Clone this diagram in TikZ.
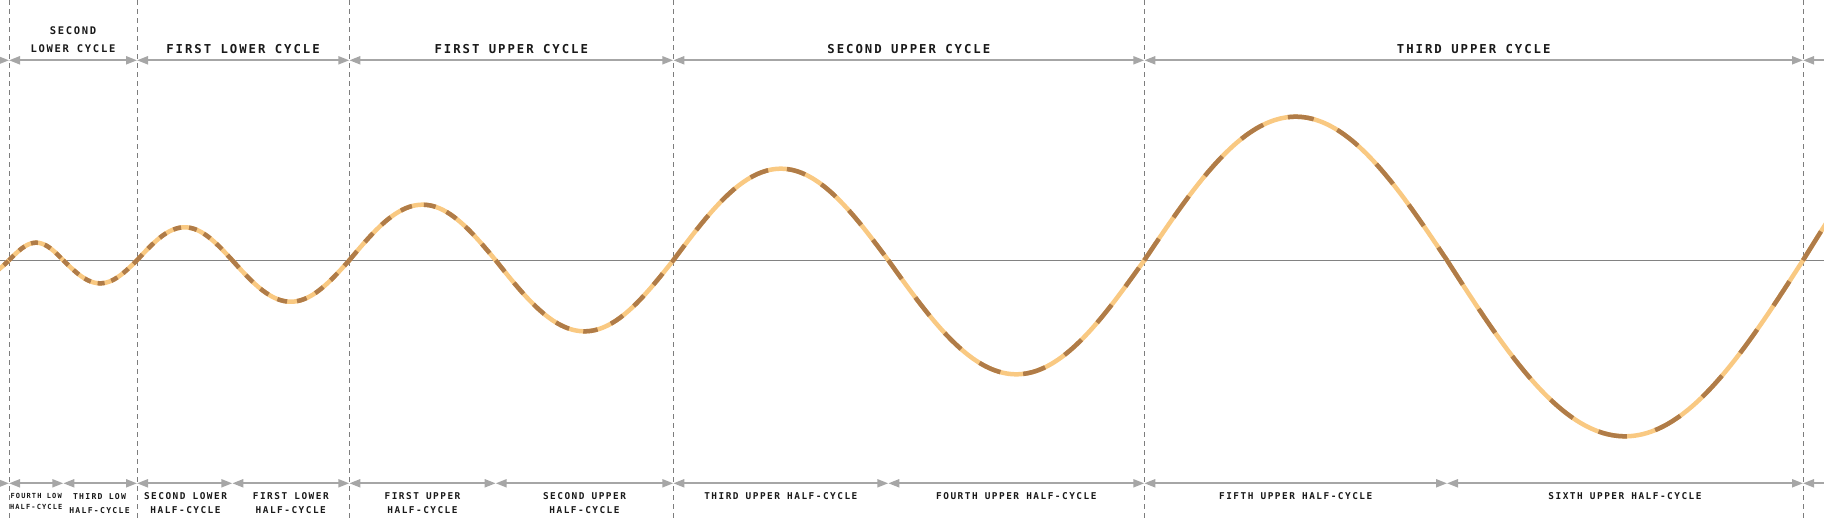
\documentclass[tikz,border=0pt]{standalone}
\usepackage{fontspec}
\newfontfamily\labfont[LetterSpace=16]{DejaVu Sans Mono}
\usetikzlibrary{arrows.meta}
\definecolor{wlight}{RGB}{249,201,130}
\definecolor{wdark}{RGB}{176,124,72}
\definecolor{dimgray}{RGB}{166,166,166}
\definecolor{vgray}{RGB}{125,125,125}
\definecolor{axgray}{RGB}{130,130,130}
\definecolor{txt}{RGB}{25,25,25}
\tikzset{
  vline/.style={draw=vgray, line width=0.9pt, dash pattern=on 5pt off 4pt},
  axisline/.style={draw=axgray, line width=1.1pt},
  dimarrow/.style={draw=dimgray, line width=2pt, {Triangle[length=11pt,width=8pt]}-{Triangle[length=11pt,width=8pt]}},
  dimright/.style={draw=dimgray, line width=2pt, -{Triangle[length=11pt,width=8pt]}},
  dimleft/.style={draw=dimgray, line width=2pt, {Triangle[length=11pt,width=8pt]}-},
  wavebase/.style={draw=wlight, line width=4.5pt, line cap=round, line join=round},
  wavedash/.style={draw=wdark, line width=4.5pt, line cap=butt, line join=round},
  toplab/.style={font=\labfont\bfseries\fontsize{12.3}{14}\selectfont, text=txt, inner sep=0pt, anchor=base},
  topsmall/.style={font=\labfont\bfseries\fontsize{10.5}{12}\selectfont, text=txt, inner sep=0pt, anchor=base},
  botlab/.style={font=\labfont\bfseries\fontsize{9.4}{11}\selectfont, text=txt, inner sep=0pt, anchor=base},
  botmid/.style={font=\labfont\bfseries\fontsize{8.1}{10}\selectfont, text=txt, inner sep=0pt, anchor=base},
  bottiny/.style={font=\labfont\bfseries\fontsize{7}{8}\selectfont, text=txt, inner sep=0pt, anchor=base},
}
\begin{document}
\begin{tikzpicture}[x=1pt,y=-1pt]
\useasboundingbox (0,0) rectangle (1824,520);
\clip (0,0) rectangle (1824,520);
% vertical dashed boundaries
\foreach \i/\bx in {0/9,1/137,2/349.3,3/673.3,4/1144.3,5/1803}{
  \coordinate (vt\i) at (\bx,0);
  \coordinate (vb\i) at (\bx,520);
  \draw[vline] (vt\i) -- (vb\i);
}
% axis
\coordinate (axl) at (0,260.3);
\coordinate (axr) at (1824,260.3);
\draw[axisline] (axl) -- (axr);
% wave: light base
\foreach \xa/\xb/\A in {-37/9/-14, 9/63.3/17.6, 63.3/137/-23, 137/232.3/33, 232.3/349.3/-41.4, 349.3/495.7/55.6, 495.7/673.3/-71, 673.3/888.3/91.6, 888.3/1144.3/-114, 1144.3/1447/143.6, 1447/1803/-176, 1803/2228/218}{
  \draw[wavebase] plot[domain=\xa:\xb, samples=90, smooth] (\x, {260.3-(\A)*sin((\x-(\xa))/(\xb-(\xa))*180)});
}
% wave: dark dashes
\foreach \xa/\xb/\A/\d in {-37/9/-14/6, 9/63.3/17.6/7, 63.3/137/-23/7, 137/232.3/33/8, 232.3/349.3/-41.4/10, 349.3/495.7/55.6/12, 495.7/673.3/-71/14.5, 673.3/888.3/91.6/19, 888.3/1144.3/-114/23, 1144.3/1447/143.6/26, 1447/1803/-176/29, 1803/2228/218/34}{
  \draw[wavedash, dash pattern=on \d pt off \d pt] plot[domain=\xa:\xb, samples=90, smooth] (\x, {260.3-(\A)*sin((\x-(\xa))/(\xb-(\xa))*180)});
}
% top dimension arrows
\coordinate (tL) at (-30,60.3);
\coordinate (tR) at (1854,60.3);
\foreach \i/\bx in {0/9,1/137,2/349.3,3/673.3,4/1144.3,5/1803}{
  \coordinate (t\i) at (\bx,60.3);
}
\draw[dimright] (tL) -- (t0);
\draw[dimarrow] (t0) -- (t1);
\draw[dimarrow] (t1) -- (t2);
\draw[dimarrow] (t2) -- (t3);
\draw[dimarrow] (t3) -- (t4);
\draw[dimarrow] (t4) -- (t5);
\draw[dimleft] (t5) -- (tR);
% bottom dimension arrows
\coordinate (bL) at (-30,483.3);
\coordinate (bR) at (1854,483.3);
\foreach \i/\bx in {0/9,1/63.3,2/137,3/232.3,4/349.3,5/495.7,6/673.3,7/888.3,8/1144.3,9/1447,10/1803}{
  \coordinate (b\i) at (\bx,483.3);
}
\draw[dimright] (bL) -- (b0);
\foreach \i/\j in {0/1,1/2,2/3,3/4,4/5,5/6,6/7,7/8,8/9,9/10}{
  \draw[dimarrow] (b\i) -- (b\j);
}
\draw[dimleft] (b10) -- (bR);
% top labels
\node[topsmall] (sl1) at (73,34.7) {SECOND};
\node[topsmall] (sl2) at (73,52.3) {LOWER CYCLE};
\node[toplab] (flc) at (243,53.3) {FIRST LOWER CYCLE};
\node[toplab] (fuc) at (511.3,53.3) {FIRST UPPER CYCLE};
\node[toplab] (suc) at (908.8,53.3) {SECOND UPPER CYCLE};
\node[toplab] (tuc) at (1473.7,53.3) {THIRD UPPER CYCLE};
% bottom labels
\node[bottiny] (fl1) at (36.2,498.3) {FOURTH LOW};
\node[bottiny] (fl2) at (36.2,509.3) {HALF-CYCLE};
\node[botmid] (tl1) at (99.5,499.3) {THIRD LOW};
\node[botmid] (tl2) at (99.5,513.3) {HALF-CYCLE};
\node[botlab] (sh1) at (185.5,499.3) {SECOND LOWER};
\node[botlab] (sh2) at (185.5,513.5) {HALF-CYCLE};
\node[botlab] (fh1) at (290.8,499.3) {FIRST LOWER};
\node[botlab] (fh2) at (290.8,513.5) {HALF-CYCLE};
\node[botlab] (fu1) at (422.5,499.3) {FIRST UPPER};
\node[botlab] (fu2) at (422.5,513.5) {HALF-CYCLE};
\node[botlab] (su1) at (584.5,499.3) {SECOND UPPER};
\node[botlab] (su2) at (584.5,513.5) {HALF-CYCLE};
\node[botlab] (tu) at (780.8,499.3) {THIRD UPPER HALF-CYCLE};
\node[botlab] (fou) at (1016.3,499.3) {FOURTH UPPER HALF-CYCLE};
\node[botlab] (fiu) at (1295.7,499.3) {FIFTH UPPER HALF-CYCLE};
\node[botlab] (siu) at (1625,499.3) {SIXTH UPPER HALF-CYCLE};
\end{tikzpicture}
\end{document}
